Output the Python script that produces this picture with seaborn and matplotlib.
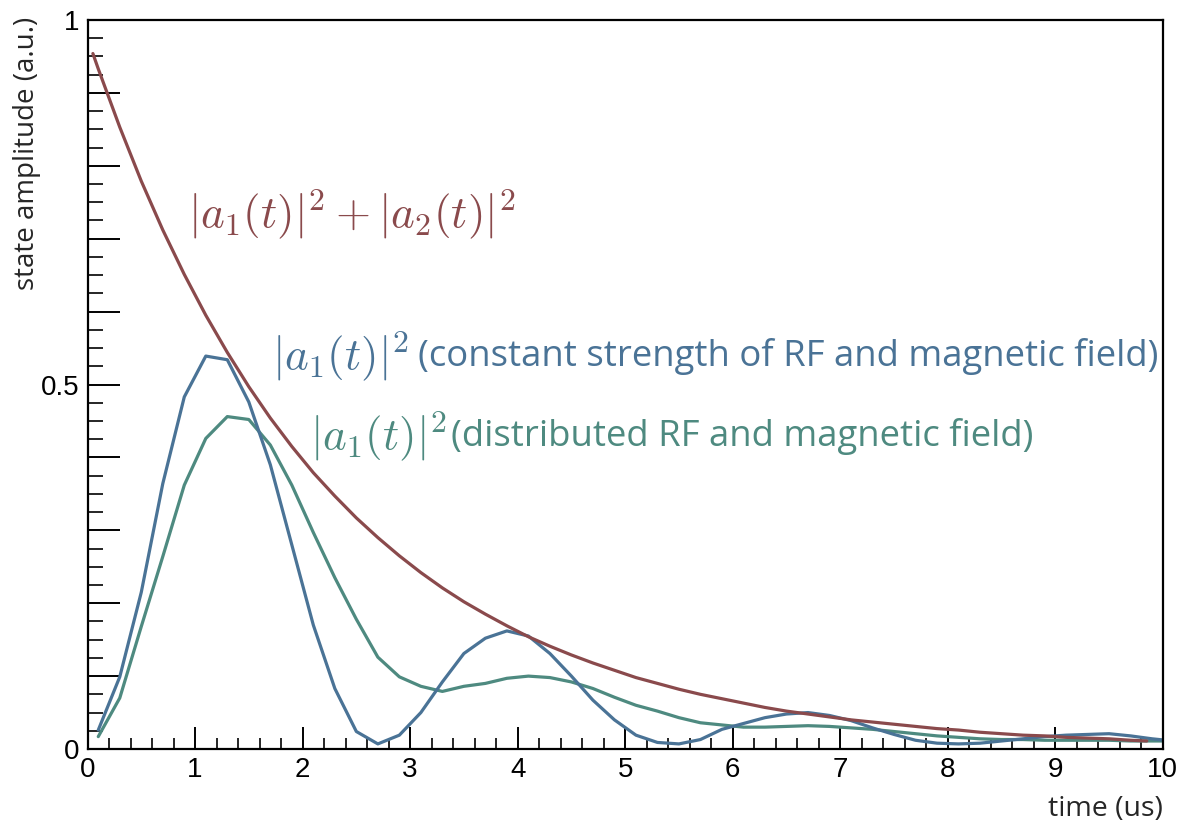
import numpy as np
import pandas as pd
import matplotlib
matplotlib.use("Agg")
import matplotlib.pyplot as plt
import seaborn as sns
from matplotlib.ticker import MultipleLocator, FixedLocator

# ---- data ----
t_osc = [0.1, 0.3, 0.5, 0.7, 0.9, 1.1, 1.3, 1.5, 1.7, 1.9,
         2.1, 2.3, 2.5, 2.7, 2.9, 3.1, 3.3, 3.5, 3.7, 3.9,
         4.1, 4.3, 4.5, 4.7, 4.9, 5.1, 5.3, 5.5, 5.7, 5.9,
         6.1, 6.3, 6.5, 6.7, 6.9, 7.1, 7.3, 7.5, 7.7, 7.9,
         8.1, 8.3, 8.5, 8.7, 8.9, 9.1, 9.3, 9.5, 9.7, 9.9, 10.1]

a1_constant = [0.026, 0.099, 0.215, 0.364, 0.483, 0.539, 0.534, 0.476, 0.390, 0.280,
               0.170, 0.083, 0.024, 0.007, 0.019, 0.050, 0.092, 0.131, 0.152, 0.162,
               0.155, 0.131, 0.100, 0.067, 0.040, 0.019, 0.009, 0.007, 0.013, 0.027,
               0.035, 0.043, 0.048, 0.050, 0.046, 0.039, 0.029, 0.020, 0.012, 0.008,
               0.007, 0.008, 0.011, 0.014, 0.017, 0.019, 0.020, 0.021, 0.018, 0.014, 0.011]

a1_distributed = [0.017, 0.070, 0.168, 0.264, 0.362, 0.426, 0.456, 0.452, 0.417, 0.362,
                  0.297, 0.235, 0.178, 0.126, 0.099, 0.086, 0.079, 0.086, 0.090, 0.097,
                  0.100, 0.098, 0.092, 0.083, 0.071, 0.060, 0.052, 0.043, 0.036, 0.033,
                  0.030, 0.030, 0.031, 0.032, 0.031, 0.029, 0.027, 0.024, 0.021, 0.018,
                  0.016, 0.014, 0.013, 0.013, 0.012, 0.012, 0.012, 0.012, 0.011, 0.011, 0.011]

t_sum = [0.05, 0.1, 0.3, 0.5, 0.7, 0.9, 1.1, 1.3, 1.5, 1.7, 1.9,
         2.1, 2.3, 2.5, 2.7, 2.9, 3.1, 3.3, 3.5, 3.7, 3.9,
         4.1, 4.3, 4.5, 4.7, 4.9, 5.1, 5.3, 5.5, 5.7, 5.9,
         6.1, 6.3, 6.5, 6.7, 6.9, 7.1, 7.3, 7.5, 7.7, 7.9,
         8.1, 8.3, 8.5, 8.7, 8.9, 9.1, 9.3, 9.5, 9.7, 9.85]
total_sum = [0.954, 0.933, 0.853, 0.779, 0.712, 0.651, 0.595, 0.544, 0.497, 0.454, 0.415,
             0.379, 0.347, 0.317, 0.290, 0.265, 0.242, 0.221, 0.202, 0.185, 0.169,
             0.154, 0.141, 0.129, 0.118, 0.108, 0.098, 0.090, 0.082, 0.075, 0.069,
             0.063, 0.057, 0.052, 0.048, 0.044, 0.040, 0.037, 0.034, 0.031, 0.028,
             0.026, 0.023, 0.021, 0.019, 0.018, 0.016, 0.015, 0.014, 0.012, 0.011]

x_ticklabels = ["0", "1", "2", "3", "4", "5", "6", "7", "8", "9", "10"]
y_ticklabels = {0.0: "0", 0.5: "0.5", 1.0: "1"}

label_sum = r"$|a_1(t)|^2 + |a_2(t)|^2$"
label_math = r"$|a_1(t)|^2$"
label_const = "(constant strength of RF and magnetic field)"
label_dist = "(distributed RF and magnetic field)"

C_RED = "#8a4a4c"
C_BLUE = "#4a7396"
C_GREEN = "#4e8a80"

# ---- style ----
sns.set_theme(style="ticks")
plt.rcParams["font.family"] = ["Liberation Sans", "DejaVu Sans"]
plt.rcParams["mathtext.fontset"] = "cm"
SANS = ["Open Sans", "DejaVu Sans"]

fig = plt.figure(figsize=(11.89, 8.23), dpi=100)
ax = fig.add_axes([0.0736, 0.0899, 0.978 - 0.0736, 0.9757 - 0.0899])

df_c = pd.DataFrame({"t": t_osc, "v": a1_constant})
df_d = pd.DataFrame({"t": t_osc, "v": a1_distributed})
df_s = pd.DataFrame({"t": t_sum, "v": total_sum})

sns.lineplot(data=df_d, x="t", y="v", ax=ax, color=C_GREEN, lw=2.3, sort=False)
sns.lineplot(data=df_c, x="t", y="v", ax=ax, color=C_BLUE, lw=2.3, sort=False)
sns.lineplot(data=df_s, x="t", y="v", ax=ax, color=C_RED, lw=2.3, sort=False)

ax.set_xlim(0, 10)
ax.set_ylim(0, 1)

ax.xaxis.set_major_locator(FixedLocator(range(len(x_ticklabels))))
ax.set_xticklabels(x_ticklabels)
ax.xaxis.set_minor_locator(MultipleLocator(0.2))
yt = [round(0.1 * i, 1) for i in range(11)]
ax.set_yticks(yt)
ax.set_yticklabels([y_ticklabels.get(v, "") for v in yt])
ax.yaxis.set_minor_locator(MultipleLocator(0.025))

ax.tick_params(axis="x", which="major", direction="in", length=16, width=1.4,
               labelsize=20, pad=6, colors="black", top=False)
ax.tick_params(axis="x", which="minor", direction="in", length=8, width=1.4, top=False)
ax.tick_params(axis="y", which="major", direction="in", length=23, width=1.4,
               labelsize=20, pad=6, colors="black", right=False)
ax.tick_params(axis="y", which="minor", direction="in", length=11, width=1.4, right=False)

for s in ax.spines.values():
    s.set_color("black")
    s.set_linewidth(1.6)
    s.set_visible(True)

ax.set_xlabel("time (us)", loc="right", fontsize=20.5, family=SANS)
ax.set_ylabel("state amplitude (a.u.)", loc="top", fontsize=20, family=SANS)
ax.xaxis.set_label_coords(1.0, -0.063)
ax.yaxis.set_label_coords(-0.043, 1.004)

ax.text(0.935, 0.733, label_sum, color=C_RED, fontsize=32.5, va="center", ha="left")
ax.text(1.72, 0.538, label_math, color=C_BLUE, fontsize=32.5, va="center", ha="left")
ax.text(3.07, 0.538, label_const, color=C_BLUE, fontsize=26.3, va="center", ha="left",
        family=SANS)
ax.text(2.07, 0.428, label_math, color=C_GREEN, fontsize=32.5, va="center", ha="left")
ax.text(3.38, 0.428, label_dist, color=C_GREEN, fontsize=26.3, va="center", ha="left",
        family=SANS)

fig.savefig("out.png", dpi=100)
